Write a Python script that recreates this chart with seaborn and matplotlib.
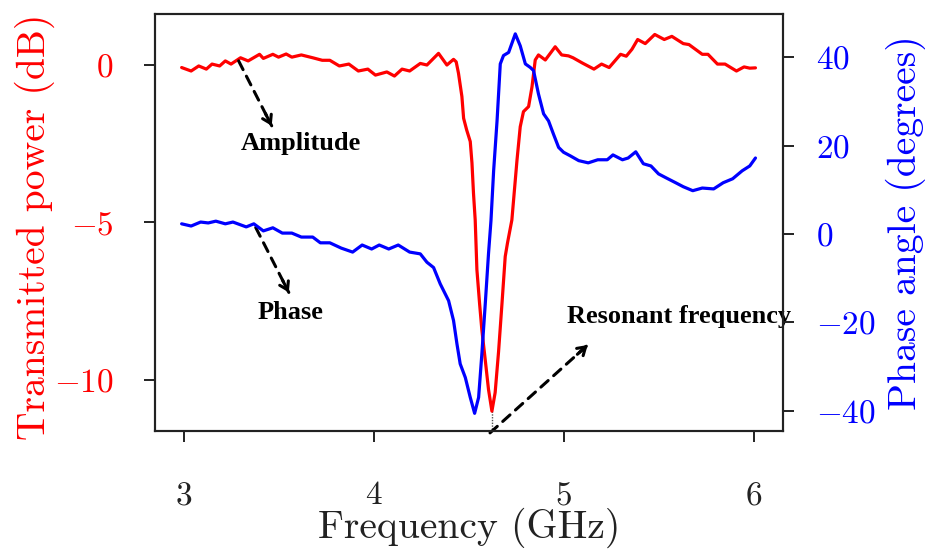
import numpy as np
import pandas as pd
import matplotlib
matplotlib.use("Agg")
import matplotlib.pyplot as plt
import seaborn as sns

# Transmitted power (dB) versus frequency (GHz)
amp_freq = [2.99, 3.04, 3.08, 3.12, 3.15, 3.19, 3.22, 3.25, 3.30, 3.34, 3.40, 3.42,
            3.47, 3.50, 3.54, 3.57, 3.62, 3.68, 3.73, 3.77, 3.82, 3.87, 3.92, 3.97,
            4.01, 4.07, 4.11, 4.15, 4.19, 4.246, 4.281, 4.342, 4.386, 4.421, 4.435,
            4.447, 4.465, 4.474, 4.49, 4.509, 4.518, 4.526, 4.535, 4.544, 4.558, 4.57,
            4.588, 4.605, 4.623, 4.64, 4.658, 4.676, 4.693, 4.705, 4.728, 4.755, 4.772,
            4.789, 4.816, 4.834, 4.851, 4.868, 4.904, 4.93, 4.956, 4.99, 5.026, 5.05,
            5.10, 5.16, 5.20, 5.24, 5.30, 5.33, 5.36, 5.39, 5.43, 5.48, 5.53, 5.57,
            5.63, 5.66, 5.73, 5.76, 5.81, 5.85, 5.91, 5.95, 5.98, 6.01]
amp_db = [-0.08, -0.19, -0.03, -0.13, 0.03, -0.03, 0.13, 0.03, 0.23, 0.13, 0.34, 0.21,
          0.34, 0.25, 0.35, 0.25, 0.32, 0.23, 0.15, 0.15, -0.03, 0.03, -0.19, -0.13,
          -0.32, -0.22, -0.35, -0.13, -0.19, 0.05, 0.0, 0.37, 0.0, 0.18, 0.10,
          -0.26, -1.0, -1.69, -2.06, -2.43, -3.11, -4.07, -4.92, -6.5, -7.57, -8.41,
          -9.37, -10.3, -10.99, -10.4, -9.1, -7.57, -6.08, -5.65, -4.92, -3.02, -1.96,
          -1.48, -1.32, -0.69, 0.16, 0.32, 0.16, 0.37, 0.58, 0.32, 0.29, 0.23,
          0.06, -0.13, 0.03, -0.08, 0.34, 0.28, 0.50, 0.81, 0.68, 0.97, 0.81, 0.91,
          0.68, 0.65, 0.34, 0.34, 0.03, 0.03, -0.19, -0.06, -0.10, -0.09]

# Phase angle (degrees) versus frequency (GHz)
phase_freq = [2.99, 3.04, 3.09, 3.13, 3.17, 3.22, 3.26, 3.33, 3.37, 3.42, 3.47, 3.52,
              3.57, 3.62, 3.68, 3.72, 3.77, 3.83, 3.89, 3.94, 3.99, 4.03, 4.08, 4.13,
              4.19, 4.246, 4.281, 4.316, 4.351, 4.395, 4.421, 4.439, 4.456, 4.483, 4.509,
              4.532, 4.553, 4.57, 4.588, 4.605, 4.618, 4.632, 4.65, 4.667, 4.684, 4.711,
              4.746, 4.772, 4.799, 4.825, 4.842, 4.868, 4.895, 4.921, 4.947, 4.974, 5.0,
              5.035, 5.08, 5.13, 5.18, 5.23, 5.26, 5.31, 5.34, 5.38, 5.42, 5.46, 5.50,
              5.54, 5.59, 5.63, 5.68, 5.73, 5.79, 5.84, 5.89, 5.94, 5.98, 6.01]
phase_deg = [2.3, 1.8, 2.7, 2.5, 2.9, 2.3, 2.7, 1.6, 2.3, 0.7, 1.4, 0.2,
             0.2, -0.7, -0.7, -2.0, -2.0, -3.2, -4.1, -2.5, -3.4, -2.5, -3.4, -2.5,
             -4.1, -4.5, -6.4, -7.6, -11.3, -15.1, -19.6, -24.9, -29.4, -32.5, -37.0,
             -40.6, -37.0, -27.2, -15.8, -4.5, 3.0, 14.3, 25.6, 38.5, 40.4, 41.1,
             45.3, 42.6, 38.5, 37.7, 37.0, 31.7, 27.2, 25.6, 22.6, 19.6, 18.5,
             17.7, 16.6, 16.1, 16.8, 16.8, 17.9, 16.8, 17.2, 18.6, 15.9, 15.4, 13.6,
             12.7, 11.6, 10.7, 9.8, 10.4, 10.2, 11.6, 12.5, 14.3, 15.4, 17.2]

x_ticks = [3, 4, 5, 6]
amp_ticks = [-10, -5, 0]
phase_ticks = [-40, -20, 0, 20, 40]

amp_df = pd.DataFrame({"freq": amp_freq, "power": amp_db})
phase_df = pd.DataFrame({"freq": phase_freq, "phase": phase_deg})

sns.set_style("ticks")
plt.rcParams.update({
    "font.family": ["cmr10", "DejaVu Serif"],
    "mathtext.fontset": "cm",
    "axes.formatter.use_mathtext": True,
    "axes.unicode_minus": True,
    "axes.edgecolor": "#222222",
    "axes.linewidth": 1.5,
    "lines.solid_joinstyle": "round",
    "lines.solid_capstyle": "round",
})

fig = plt.figure(figsize=(9.25, 5.51), dpi=100)
ax = fig.add_axes([0.1676, 0.2178, 0.8465 - 0.1676, 0.9746 - 0.2178])
ax2 = ax.twinx()

sns.lineplot(data=amp_df, x="freq", y="power", color="#ff0000", lw=2.3,
             estimator=None, ax=ax, zorder=3)
sns.lineplot(data=phase_df, x="freq", y="phase", color="#0000ff", lw=2.3,
             estimator=None, ax=ax2, zorder=3)

ax.set_xlim(2.85, 6.155)
ax.set_ylim(-11.62, 1.62)
ax2.set_ylim(-44.6, 49.8)

ax.set_xticks(x_ticks)
ax.set_yticks(amp_ticks)
ax2.set_yticks(phase_ticks)

tick_fs = 24
label_fs = 28.5
ax.tick_params(axis="x", length=8, width=1.4, color="#222222", labelsize=tick_fs,
               pad=28, labelcolor="#222222")
ax.tick_params(axis="y", length=8, width=1.4, color="#222222", labelsize=tick_fs,
               pad=22, labelcolor="#ff0000")
ax2.tick_params(axis="y", length=8, width=1.4, color="#222222", labelsize=tick_fs,
                pad=16, labelcolor="#0000ff")
for a in (ax, ax2):
    for s in a.spines.values():
        s.set_linewidth(1.5)
        s.set_color("#222222")

ax.set_xlabel("Frequency (GHz)", fontsize=label_fs, color="#222222")
ax.set_ylabel("Transmitted power (dB)", fontsize=label_fs, color="#ff0000")
ax2.set_ylabel("Phase angle (degrees)", fontsize=label_fs, color="#0000ff")
ax.xaxis.set_label_coords(0.5, -0.185)
ax.yaxis.set_label_coords(-0.16, 0.49)
ax2.yaxis.set_label_coords(1.164, 0.5)

# dotted guide from the transmission minimum down to the frequency axis
i_min = int(np.argmin(amp_db))
ax.plot([amp_freq[i_min], amp_freq[i_min]], [amp_db[i_min], ax.get_ylim()[0]],
        ls=(0, (1, 1)), lw=1.0, color="#555555", zorder=2)


def dashed_arrow(axis, start, end):
    axis.annotate("", xy=end, xytext=start,
                  arrowprops=dict(arrowstyle="-", linestyle=(0, (3.2, 2.4)), lw=2.2,
                                  color="black", shrinkA=0, shrinkB=0),
                  annotation_clip=False)
    p0 = axis.transData.transform(start)
    p1 = axis.transData.transform(end)
    d = (p1 - p0) / np.hypot(*(p1 - p0))
    back = -d * 10
    axis.annotate("", xy=end, xytext=(back[0], back[1]), textcoords="offset points",
                  arrowprops=dict(arrowstyle="->,head_length=0.55,head_width=0.35",
                                  lw=2.2, color="black", shrinkA=0, shrinkB=0),
                  annotation_clip=False)


note_font = dict(family=["Liberation Serif", "DejaVu Serif"], weight="bold",
                 size=19, color="black")

dashed_arrow(ax, (3.29, 0.13), (3.464, -1.93))
ax.text(3.62, -2.5, "Amplitude", ha="center", va="center", **note_font)

dashed_arrow(ax, (3.38, -5.16), (3.554, -7.22))
ax.text(3.562, -7.85, "Phase", ha="center", va="center", **note_font)

dashed_arrow(ax, (amp_freq[i_min] - 0.01, -11.68), (5.127, -8.89))
ax.text(5.016, -8.0, "Resonant frequency", ha="left", va="center",
        clip_on=False, zorder=5, **note_font)

fig.savefig("out.png", dpi=100)
